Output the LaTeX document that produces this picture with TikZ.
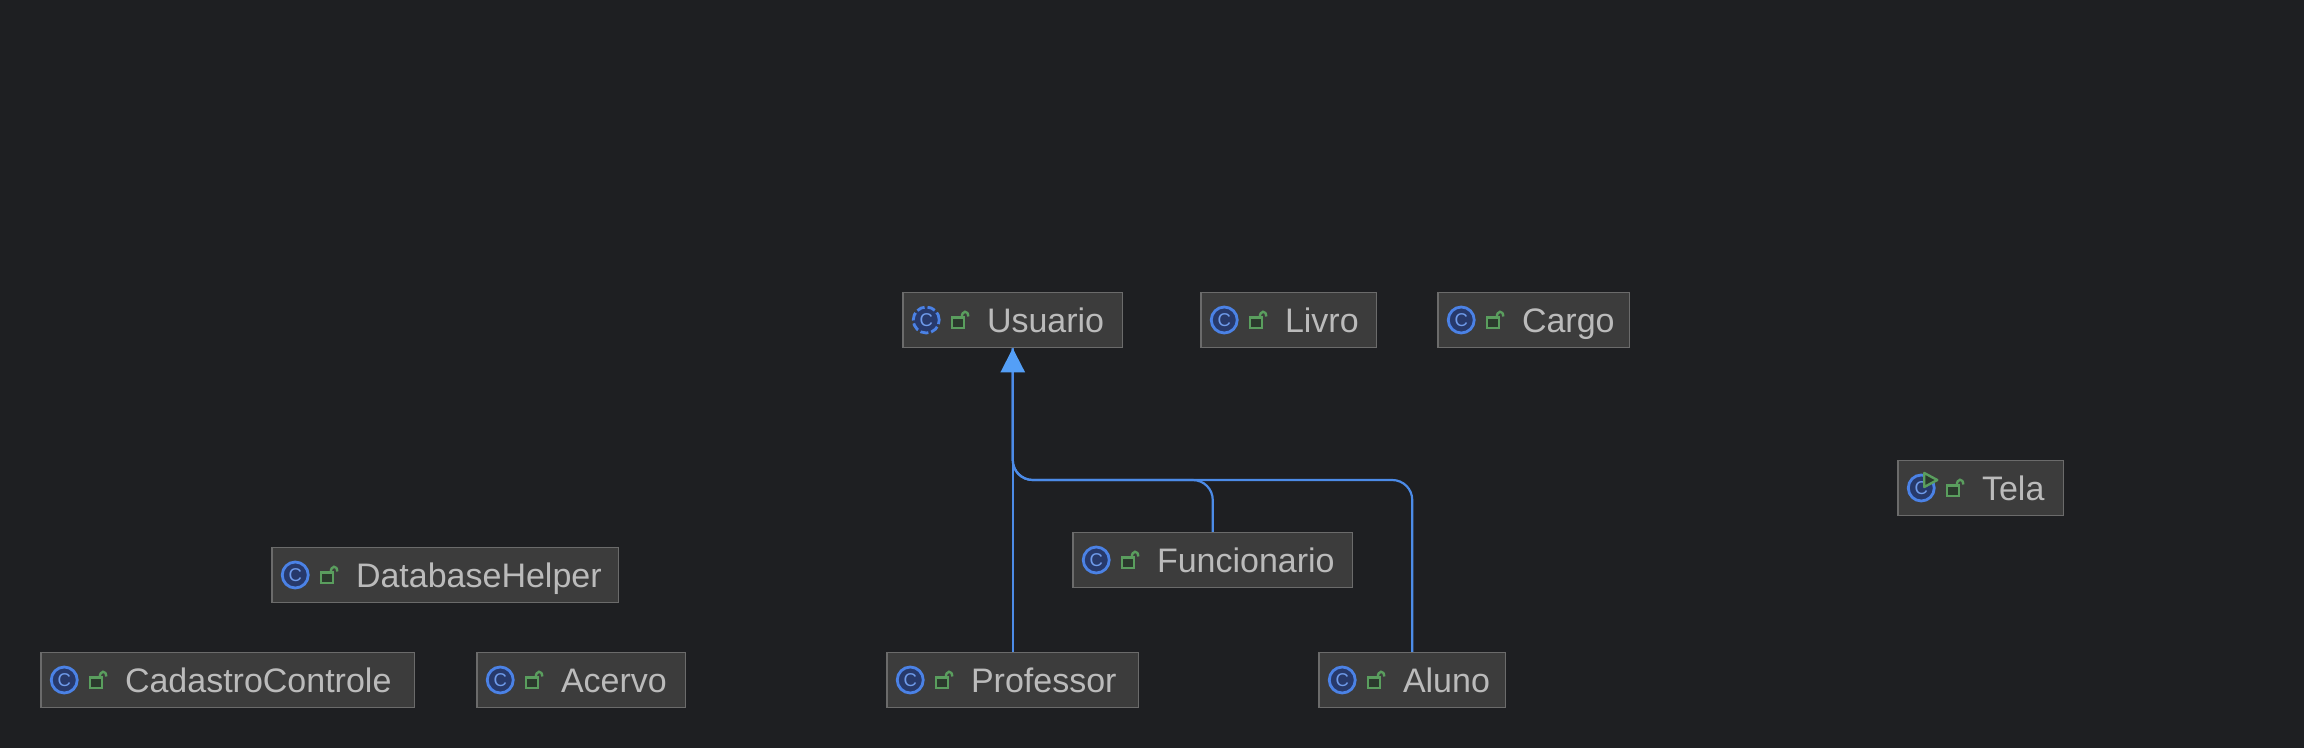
\documentclass[tikz,border=0pt]{standalone}
\usepackage{fontspec}
\setmainfont{Liberation Sans}
\usetikzlibrary{arrows.meta}
\definecolor{canvasbg}{HTML}{1E1F22}
\definecolor{boxfill}{HTML}{3C3C3C}
\definecolor{boxline}{HTML}{6B6B6B}
\definecolor{labeltext}{HTML}{BBBBBB}
\definecolor{iconblue}{HTML}{4B82E6}
\definecolor{iconfill}{HTML}{27396B}
\definecolor{lockgreen}{HTML}{5A9E5E}
\definecolor{lockfill}{HTML}{2B3A2D}
\definecolor{linkblue}{HTML}{4C8BE8}
\definecolor{tipblue}{HTML}{549FF7}
\tikzstyle{classbox} = [rectangle, anchor=west, draw=boxline, line width=1.5pt, fill=boxfill, text=labeltext, inner xsep=0pt, inner ysep=0pt, text width=#1, align=left, text height=32pt, text depth=8pt, minimum height=55pt, font=\fontsize{34}{38}\selectfont, execute at begin node={\hspace*{84pt}}]
\tikzstyle{classicon} = [circle, draw=iconblue, fill=iconfill, line width=2.8pt, minimum size=26pt, inner sep=0pt, text=iconblue!80!white, font=\fontsize{18.5}{20}\selectfont]
\tikzstyle{inherit} = [draw=linkblue, line width=2.2pt, rounded corners=20pt]
\newcommand{\classlock}[1]{
	\begin{scope}[shift={(#1.west)}]
		\draw [lockgreen, line width=2.4pt, fill=lockfill] (50,-2.5) rectangle (62,8);
		\draw [lockgreen, line width=2.4pt] (59.5,-2.5) .. controls (59.5,-10) and (66,-10) .. (66,-3.5);
	\end{scope}
}
\begin{document}
\begin{tikzpicture}[x=1pt, y=-1pt]
	\useasboundingbox (0,0) rectangle (2304,748);
	\fill [canvasbg] (0,0) rectangle (2304,748);

	\node (usuario) [classbox=219.5pt] at (902.25,320) {Usuario};
	\node (livro) [classbox=175.5pt] at (1200.25,320) {Livro};
	\node (cargo) [classbox=191.5pt] at (1437.25,320) {Cargo};
	\node (tela) [classbox=165.5pt] at (1897.25,488) {Tela};
	\node (funcionario) [classbox=279.5pt] at (1072.25,560) {Funcionario};
	\node (helper) [classbox=346.5pt] at (271.25,575) {DatabaseHelper};
	\node (controle) [classbox=373.5pt] at (40.25,680) {CadastroControle};
	\node (acervo) [classbox=208.5pt] at (476.25,680) {Acervo};
	\node (professor) [classbox=251.5pt] at (886.25,680) {Professor};
	\node (aluno) [classbox=186.5pt] at (1318.25,680) {Aluno};

	\node (usuarioicon) [classicon, dashed, dash pattern=on 8pt off 3pt] at ([xshift=24pt]usuario.west) {C};
	\node (livroicon) [classicon] at ([xshift=24pt]livro.west) {C};
	\node (cargoicon) [classicon] at ([xshift=24pt]cargo.west) {C};
	\node (telaicon) [classicon] at ([xshift=24pt]tela.west) {C};
	\node (funcionarioicon) [classicon] at ([xshift=24pt]funcionario.west) {C};
	\node (helpericon) [classicon] at ([xshift=24pt]helper.west) {C};
	\node (controleicon) [classicon] at ([xshift=24pt]controle.west) {C};
	\node (acervoicon) [classicon] at ([xshift=24pt]acervo.west) {C};
	\node (professoricon) [classicon] at ([xshift=24pt]professor.west) {C};
	\node (alunoicon) [classicon] at ([xshift=24pt]aluno.west) {C};

	\classlock{usuario}
	\classlock{livro}
	\classlock{cargo}
	\classlock{tela}
	\classlock{funcionario}
	\classlock{helper}
	\classlock{controle}
	\classlock{acervo}
	\classlock{professor}
	\classlock{aluno}

	% run marker on Tela
	\draw [shift={(tela.west)}, lockgreen, line width=2.4pt, fill=lockfill, line join=round] (27,-15) -- (40,-8) -- (27,-1) -- cycle;

	\draw [inherit] (funcionario.north) -- (funcionario.north |- 0,480) -- (usuario.south |- 0,480) -- (usuario.south);
	\draw [inherit] (aluno.north) -- (aluno.north |- 0,480) -- (usuario.south |- 0,480) -- (usuario.south);
	\draw [inherit, -{Triangle[length=24pt, width=24pt, color=tipblue]}] (professor.north) -- (usuario.south);
\end{tikzpicture}
\end{document}
